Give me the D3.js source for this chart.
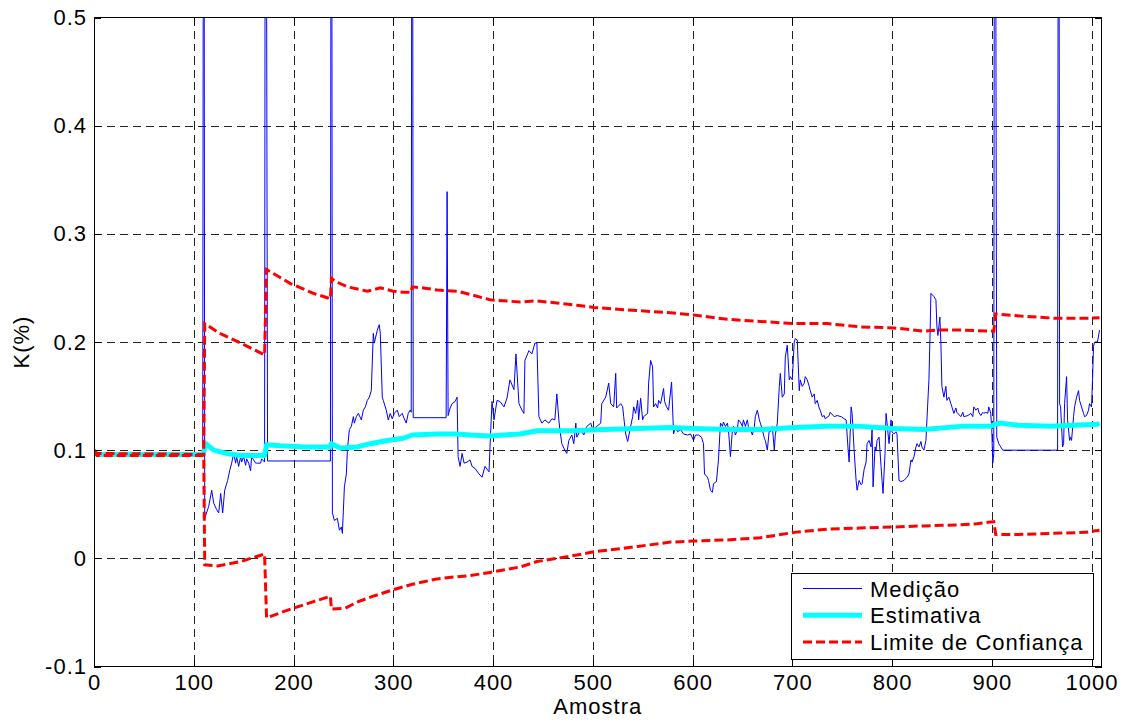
<!DOCTYPE html>
<html>
<head>
<meta charset="utf-8">
<script src="https://cdn.jsdelivr.net/npm/d3@7/dist/d3.min.js"></script>
<style>
  body { margin: 0; background: #fff; }
  text { font-family: "Liberation Sans", Arial, sans-serif; }
</style>
</head>
<body>
<div id="chart"></div>
<script>
// tick labels
var xTicks = [0, 100, 200, 300, 400, 500, 600, 700, 800, 900, 1000];
var yTicks = [-0.1, 0, 0.1, 0.2, 0.3, 0.4, 0.5];
var legendLabels = ["Medição", "Estimativa", "Limite de Confiança"];

// [amostra, K(%)] - spikes go far above the axis and get clipped
var medicao = [[0,0.100],[2,0.097],[30,0.096],[60,0.097],[90,0.096],[109,0.097],
  [110,1.0],[111,0.037],[115,0.048],[118,0.063],[120,0.051],[123,0.045],[125,0.042],[127,0.060],[129,0.042],[131,0.063],[134,0.072],[136,0.081],[138,0.088],[140,0.097],[142,0.088],[143,0.094],[145,0.085],[147,0.094],[148,0.089],[150,0.094],[152,0.086],[153,0.092],[155,0.088],[157,0.081],[158,0.094],[160,0.091],[162,0.088],[163,0.088],[167,0.088],[168,0.092],[171,0.089],
  [172,1.0],[174,0.090],[237,0.090],
  [238,1.0],[239,0.042],[241,0.035],[244,0.037],[246,0.026],[248,0.029],[249,0.023],[251,0.066],[253,0.078],[254,0.100],[256,0.119],[258,0.122],[260,0.131],[261,0.125],[263,0.131],[265,0.134],[268,0.128],[270,0.137],[272,0.140],[274,0.146],[276,0.149],[278,0.155],[280,0.208],[281,0.199],[284,0.211],[286,0.216],[287,0.208],[289,0.149],[290,0.146],[293,0.137],[295,0.128],[297,0.134],[299,0.129],[301,0.134],[304,0.137],[306,0.131],[309,0.134],[311,0.129],[313,0.125],[315,0.134],[317,0.137],[318,0.135],
  [319,1.0],[320,0.130],[353,0.130],[354,0.339],[355,0.132],[357,0.139],[359,0.143],[362,0.145],[364,0.149],[365,0.094],[367,0.085],[369,0.097],[371,0.088],[374,0.089],[377,0.091],[379,0.085],[382,0.083],[386,0.078],[389,0.075],[392,0.085],[396,0.080],[397,0.103],[399,0.145],[401,0.128],[404,0.146],[407,0.145],[411,0.140],[414,0.148],[417,0.165],[421,0.156],[423,0.189],[426,0.143],[429,0.137],[431,0.134],[432,0.183],[436,0.192],[439,0.189],[442,0.199],[444,0.199],[446,0.131],[449,0.125],[452,0.128],[456,0.125],[459,0.129],[462,0.128],[464,0.152],[466,0.128],[467,0.119],[469,0.106],[472,0.100],[474,0.097],[476,0.109],[479,0.114],[481,0.106],[483,0.125],[484,0.112],[488,0.119],[491,0.114],[494,0.122],[498,0.125],[500,0.119],[504,0.122],[508,0.125],[509,0.143],[513,0.149],[516,0.162],[518,0.143],[521,0.140],[523,0.171],[524,0.139],[528,0.143],[530,0.140],[531,0.131],[533,0.115],[535,0.108],[538,0.122],[540,0.131],[541,0.140],[543,0.134],[545,0.146],[546,0.128],[548,0.148],[550,0.128],[551,0.131],[555,0.134],[556,0.162],[558,0.183],[560,0.177],[561,0.140],[563,0.143],[565,0.139],[566,0.146],[568,0.143],[571,0.157],[572,0.145],[574,0.140],[576,0.137],[579,0.163],[581,0.115],[583,0.122],[585,0.117],[588,0.119],[591,0.115],[595,0.114],[598,0.115],[601,0.109],[603,0.114],[606,0.114],[609,0.112],[611,0.106],[612,0.078],[615,0.075],[616,0.072],[618,0.063],[620,0.061],[621,0.069],[624,0.071],[626,0.091],[628,0.125],[630,0.122],[631,0.126],[633,0.122],[635,0.125],[636,0.119],[638,0.094],[640,0.119],[641,0.122],[643,0.114],[645,0.119],[646,0.128],[648,0.126],[650,0.122],[651,0.128],[653,0.122],[655,0.128],[656,0.122],[658,0.119],[660,0.114],[662,0.122],[663,0.131],[665,0.137],[667,0.128],[668,0.125],[670,0.119],[672,0.111],[673,0.109],[675,0.100],[677,0.119],[678,0.117],[680,0.122],[682,0.100],[683,0.114],[685,0.125],[687,0.159],[688,0.171],[690,0.149],[692,0.152],[693,0.186],[695,0.197],[697,0.165],[698,0.168],[700,0.165],[702,0.200],[703,0.203],[705,0.202],[707,0.155],[708,0.165],[710,0.159],[712,0.162],[713,0.168],[715,0.165],[717,0.159],[718,0.155],[720,0.149],[722,0.152],[723,0.143],[725,0.146],[727,0.139],[728,0.137],[730,0.131],[732,0.132],[733,0.129],[737,0.132],[738,0.135],[742,0.131],[745,0.132],[749,0.131],[752,0.129],[754,0.128],[756,0.100],[757,0.089],[759,0.140],[760,0.134],[762,0.100],[764,0.072],[765,0.063],[767,0.072],[769,0.068],[770,0.069],[772,0.082],[774,0.089],[775,0.106],[777,0.109],[779,0.103],[780,0.119],[781,0.066],[783,0.103],[784,0.100],[785,0.109],[787,0.112],[789,0.085],[790,0.072],[791,0.060],[793,0.097],[794,0.134],[795,0.125],[797,0.106],[799,0.128],[800,0.117],[802,0.115],[804,0.117],[805,0.115],[807,0.072],[809,0.071],[812,0.072],[815,0.075],[817,0.078],[819,0.091],[820,0.089],[822,0.094],[824,0.103],[825,0.106],[827,0.103],[829,0.108],[830,0.103],[832,0.100],[834,0.109],[835,0.128],[837,0.165],[838,0.202],[839,0.245],[842,0.242],[844,0.239],[845,0.214],[846,0.206],[848,0.223],[849,0.199],[850,0.159],[852,0.149],[854,0.159],[855,0.146],[857,0.149],[859,0.143],[860,0.140],[862,0.134],[864,0.139],[865,0.135],[869,0.131],[871,0.135],[872,0.131],[876,0.132],[879,0.134],[881,0.131],[882,0.140],[884,0.137],[886,0.139],[887,0.135],[889,0.132],[891,0.135],[892,0.134],[894,0.135],[896,0.134],[897,0.140],[899,0.134],[900,0.119],[901,0.088],[902,0.097],
  [903,1.0],[905,0.112],[907,0.106],[911,0.100],[966,0.100],
  [967,1.0],[968,0.143],[969,0.140],[971,0.103],[972,0.106],[973,0.143],[975,0.168],[976,0.128],[978,0.109],[979,0.112],[980,0.109],[982,0.131],[983,0.140],[985,0.149],[987,0.155],[988,0.146],[990,0.140],[992,0.134],[993,0.131],[995,0.132],[997,0.137],[998,0.143],[1000,0.140],[1001,0.165],[1002,0.196],[1003,0.200],[1006,0.200],[1008,0.211]];

var estimativa = [[0,0.099],[3,0.096],[108,0.096],[110,0.098],[112,0.106],[120,0.100],[133,0.097],[147,0.095],[171,0.095],[173,0.105],[187,0.104],[213,0.103],[237,0.103],[238,0.106],[247,0.102],[264,0.103],[277,0.106],[294,0.109],[310,0.111],[319,0.114],[344,0.115],[364,0.115],[377,0.114],[397,0.113],[411,0.114],[427,0.115],[444,0.118],[478,0.118],[511,0.119],[545,0.120],[578,0.121],[601,0.120],[635,0.119],[668,0.119],[702,0.121],[735,0.122],[768,0.122],[802,0.120],[832,0.119],[869,0.122],[899,0.122],[903,0.124],[909,0.125],[926,0.123],[959,0.122],[1006,0.124],[1008,0.125]];

var limiteSup = [[0,0.100],[3,0.097],[110,0.096],[111,0.217],[126,0.208],[147,0.199],[171,0.188],[173,0.267],[197,0.254],[220,0.245],[237,0.240],[238,0.259],[242,0.256],[254,0.251],[274,0.247],[287,0.250],[300,0.247],[310,0.246],[318,0.246],[319,0.251],[330,0.250],[344,0.248],[364,0.247],[377,0.244],[397,0.239],[427,0.237],[444,0.238],[464,0.236],[484,0.234],[501,0.232],[528,0.230],[545,0.229],[578,0.227],[601,0.225],[635,0.221],[668,0.219],[702,0.217],[735,0.217],[768,0.214],[802,0.213],[832,0.210],[846,0.211],[869,0.211],[902,0.210],[904,0.226],[929,0.224],[963,0.222],[996,0.222],[1008,0.2225]];

var limiteInf = [[0,0.100],[3,0.095],[110,0.095],[111,-0.006],[124,-0.007],[147,-0.003],[171,0.004],[173,-0.055],[197,-0.047],[220,-0.040],[237,-0.035],[238,-0.047],[252,-0.046],[265,-0.040],[280,-0.035],[300,-0.029],[319,-0.024],[344,-0.019],[364,-0.017],[377,-0.016],[397,-0.013],[427,-0.008],[444,-0.003],[464,0.000],[484,0.003],[501,0.006],[528,0.009],[545,0.011],[578,0.015],[601,0.016],[635,0.017],[668,0.019],[702,0.024],[735,0.027],[768,0.028],[802,0.029],[832,0.030],[869,0.031],[885,0.032],[902,0.034],[904,0.022],[926,0.022],[959,0.023],[994,0.024],[1008,0.026]];

var width = 1126,
    height = 722;
var margin = {top: 17.5, right: 24.5, bottom: 55.5, left: 94};
var fontSize = 22;

var svg = d3.select("#chart").append("svg")
    .attr("width", width)
    .attr("height", height);

var x = d3.scaleLinear().domain([0, 1010]).range([margin.left, width - margin.right]);
var y = d3.scaleLinear().domain([-0.1, 0.5]).range([height - margin.bottom, margin.top]);

var fmt = d => String(+d.toFixed(1));

/// GRID ///
var grid = svg.append("g").attr("shape-rendering", "crispEdges")
    .attr("stroke", "#222").attr("stroke-width", 1).attr("stroke-dasharray", "8,5");
grid.selectAll(".gx").data(xTicks.filter(d => d > 0 && d < 1010)).enter()
  .append("line")
    .attr("x1", d => Math.round(x(d)) + 0.5).attr("x2", d => Math.round(x(d)) + 0.5)
    .attr("y1", y(0.5)).attr("y2", y(-0.1));
grid.selectAll(".gy").data(yTicks.filter(d => d > -0.1 && d < 0.5)).enter()
  .append("line")
    .attr("y1", d => Math.round(y(d)) + 0.5).attr("y2", d => Math.round(y(d)) + 0.5)
    .attr("x1", x(0)).attr("x2", x(1010));

/// LINES ///
svg.append("clipPath").attr("id", "clip")
  .append("rect")
    .attr("x", x(0)).attr("y", y(0.5))
    .attr("width", x(1010) - x(0)).attr("height", y(-0.1) - y(0.5));

var line = d3.line().x(d => x(d[0])).y(d => y(d[1]));
var plot = svg.append("g").attr("clip-path", "url(#clip)").attr("fill", "none");

plot.append("path").datum(medicao)
    .attr("d", line).attr("stroke", "#0000ff").attr("stroke-width", 1);
plot.append("path").datum(estimativa)
    .attr("d", line).attr("stroke", "#00ffff").attr("stroke-width", 5)
    .attr("stroke-linejoin", "round");
[limiteSup, limiteInf].forEach(function(s) {
  plot.append("path").datum(s)
      .attr("d", line).attr("stroke", "#ff0000").attr("stroke-width", 3)
      .attr("stroke-dasharray", "9,4");
});

/// AXES ///
function styleAxis(g) {
  g.select(".domain").remove();
  g.selectAll(".tick line").attr("stroke", "#000").attr("shape-rendering", "crispEdges");
  g.selectAll("text").attr("fill", "#000")
    .style("font-size", fontSize + "px").style("letter-spacing", "1px");
}

svg.append("g").attr("transform", "translate(0," + y(-0.1) + ")")
  .call(d3.axisBottom(x).tickValues(xTicks).tickSize(-7).tickPadding(8).tickFormat(d3.format("d")))
  .call(styleAxis);
svg.append("g").attr("transform", "translate(0," + y(0.5) + ")")
  .call(d3.axisTop(x).tickValues(xTicks).tickSize(-7).tickFormat(""))
  .call(styleAxis);
svg.append("g").attr("transform", "translate(" + x(0) + ",0)")
  .call(d3.axisLeft(y).tickValues(yTicks).tickSize(-7).tickPadding(7).tickFormat(fmt))
  .call(styleAxis);
svg.append("g").attr("transform", "translate(" + x(1010) + ",0)")
  .call(d3.axisRight(y).tickValues(yTicks).tickSize(-7).tickFormat(""))
  .call(styleAxis);

svg.append("rect")
    .attr("x", x(0)).attr("y", y(0.5))
    .attr("width", x(1010) - x(0)).attr("height", y(-0.1) - y(0.5))
    .attr("fill", "none").attr("stroke", "#000").attr("shape-rendering", "crispEdges");

svg.append("text")
    .attr("x", (x(0) + x(1010)) / 2).attr("y", 714)
    .attr("text-anchor", "middle")
    .style("font-size", fontSize + "px").style("letter-spacing", "1px")
    .text("Amostra");
svg.append("text")
    .attr("transform", "translate(29," + (y(0.5) + y(-0.1)) / 2 + ") rotate(-90)")
    .attr("text-anchor", "middle")
    .style("font-size", fontSize + "px").style("letter-spacing", "1px")
    .text("K(%)");

/// LEGEND ///
var legend = svg.append("g").attr("transform", "translate(791,573)");
legend.append("rect")
    .attr("width", 302).attr("height", 86)
    .attr("fill", "#fff").attr("stroke", "#000").attr("shape-rendering", "crispEdges");
var legendStyles = [
  {color: "#0000ff", w: 1, dash: null},
  {color: "#00ffff", w: 5, dash: null},
  {color: "#ff0000", w: 3, dash: "9,4"}
];
var rows = legend.selectAll(".row").data(legendLabels).enter()
  .append("g").attr("transform", (d, i) => "translate(0," + (15.5 + i * 26.7) + ")");
rows.append("line")
    .attr("x1", 12).attr("x2", 71)
    .attr("stroke", (d, i) => legendStyles[i].color)
    .attr("stroke-width", (d, i) => legendStyles[i].w)
    .attr("stroke-dasharray", (d, i) => legendStyles[i].dash);
rows.append("text")
    .attr("x", 79).attr("y", 8)
    .style("font-size", fontSize + "px").style("letter-spacing", "1px")
    .text(d => d);
</script>
</body>
</html>
